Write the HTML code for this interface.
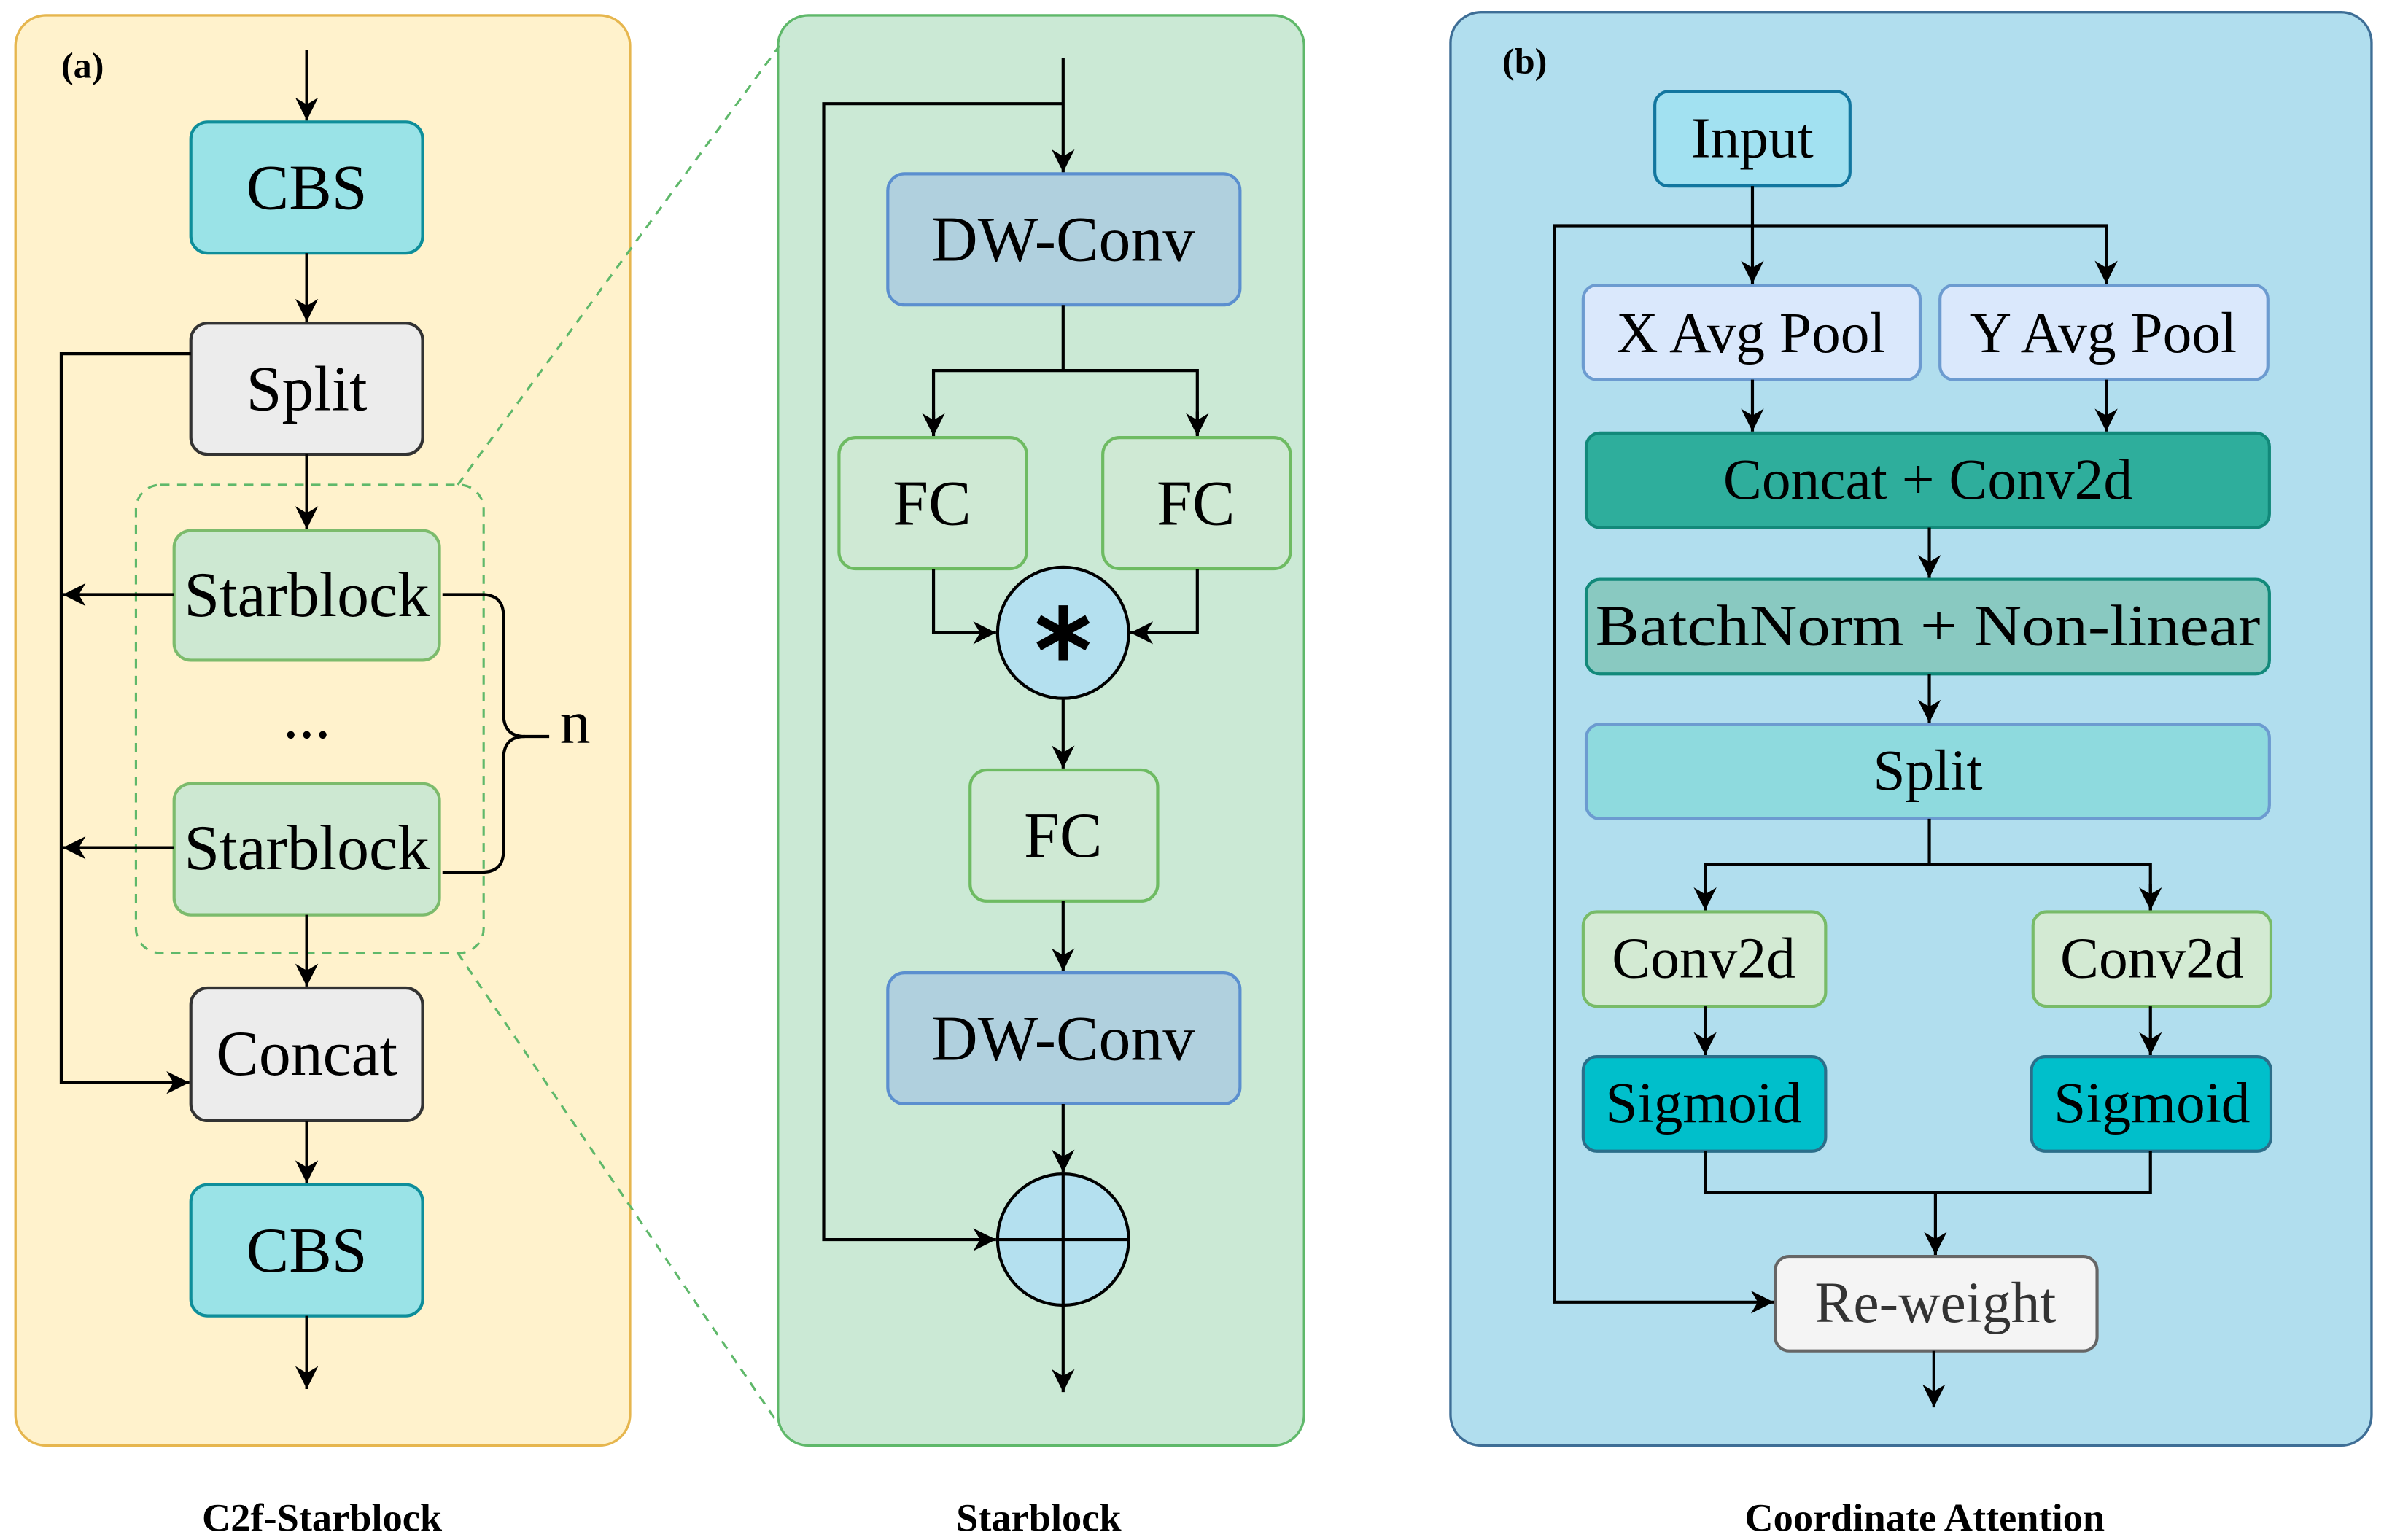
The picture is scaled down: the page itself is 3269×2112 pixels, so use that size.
<!DOCTYPE html>
<html><head><meta charset="utf-8"><style>html,body{margin:0;padding:0;background:#fff;font-family:"Liberation Serif","Times New Roman",Times,"DejaVu Serif",serif}svg{display:block}text{font-family:"Liberation Serif","Times New Roman",Times,"DejaVu Serif",serif}</style></head>
<body>
<svg width="3269" height="2112" viewBox="0 0 1563 1010" xmlns="http://www.w3.org/2000/svg" font-family="Liberation Serif, Times New Roman, serif">
<defs>
<marker id="ar" viewBox="0 0 10 10" refX="10" refY="5" markerWidth="15" markerHeight="15" markerUnits="userSpaceOnUse" orient="auto">
<path d="M0,0 L10,5 L0,10 L3,5 z" fill="#000"/></marker>
</defs>
<g stroke-width="1.6">
<rect x="10" y="10" width="403" height="938" rx="20" fill="#fff2cc" stroke="#e6b64e"/>
<rect x="510" y="10" width="345" height="938" rx="20" fill="#cbe9d5" stroke="#5fb86a"/>
<rect x="951" y="8" width="604" height="940" rx="20" fill="#b1deee" stroke="#3e6e96"/>
</g>
<g fill="none" stroke="#5fb86a" stroke-width="1.5" stroke-dasharray="6,5">
<rect x="89" y="318" width="228" height="307" rx="16"/>
<line x1="300" y1="318" x2="511" y2="30"/>
<line x1="300" y1="625" x2="511" y2="935"/>
</g>
<g font-weight="bold" font-size="24">
<text x="40" y="51">(a)</text>
<text x="985" y="48">(b)</text>
<text x="211" y="1004" text-anchor="middle" font-size="26">C2f-Starblock</text>
<text x="681" y="1004" text-anchor="middle" font-size="26">Starblock</text>
<text x="1262" y="1004" text-anchor="middle" font-size="26">Coordinate Attention</text>
</g>

<g stroke-width="2">
<rect x="125" y="80" width="152" height="86" rx="11" fill="#9ae3e7" stroke="#0e8e9a"/>
<rect x="125" y="212" width="152" height="86" rx="11" fill="#ececec" stroke="#333"/>
<rect x="114" y="348" width="174" height="85" rx="11" fill="#cde8d2" stroke="#7cbb6c"/>
<rect x="114" y="514" width="174" height="86" rx="11" fill="#cde8d2" stroke="#7cbb6c"/>
<rect x="125" y="648" width="152" height="87" rx="11" fill="#ececec" stroke="#333"/>
<rect x="125" y="777" width="152" height="86" rx="11" fill="#9ae3e7" stroke="#0e8e9a"/>
</g>
<g font-size="42" text-anchor="middle">
<text x="201" y="137">CBS</text>
<text x="201" y="269">Split</text>
<text x="201" y="404">Starblock</text>
<text x="201" y="484">...</text>
<text x="201" y="570">Starblock</text>
<text x="201" y="705">Concat</text>
<text x="201" y="834">CBS</text>
<text x="377" y="487" font-size="40">n</text>
</g>
<g fill="none" stroke="#000" stroke-width="2">
<line x1="201" y1="33" x2="201" y2="79" marker-end="url(#ar)"/>
<line x1="201" y1="166" x2="201" y2="211" marker-end="url(#ar)"/>
<line x1="201" y1="298" x2="201" y2="347" marker-end="url(#ar)"/>
<line x1="201" y1="600" x2="201" y2="647" marker-end="url(#ar)"/>
<line x1="201" y1="735" x2="201" y2="776" marker-end="url(#ar)"/>
<line x1="201" y1="863" x2="201" y2="911" marker-end="url(#ar)"/>
<polyline points="125,232 40,232 40,710 124,710" marker-end="url(#ar)"/>
<line x1="114" y1="390" x2="41" y2="390" marker-end="url(#ar)"/>
<line x1="114" y1="556" x2="41" y2="556" marker-end="url(#ar)"/>
<path d="M290 390 H316 Q330 390 330 404 V468 Q330 483 344 483 H360"/>
<path d="M290 572 H316 Q330 572 330 558 V498 Q330 483 344 483"/>
</g>

<g stroke-width="2">
<rect x="582" y="114" width="231" height="86" rx="11" fill="#b0d0de" stroke="#5b8fcf"/>
<rect x="550" y="287" width="123" height="86" rx="11" fill="#cfe9d4" stroke="#6ebb62"/>
<rect x="723" y="287" width="123" height="86" rx="11" fill="#cfe9d4" stroke="#6ebb62"/>
<rect x="636" y="505" width="123" height="86" rx="11" fill="#cfe9d4" stroke="#6ebb62"/>
<rect x="582" y="638" width="231" height="86" rx="11" fill="#b0d0de" stroke="#5b8fcf"/>
<circle cx="697" cy="415" r="43" fill="#b4e0ef" stroke="#000"/>
<circle cx="697" cy="813" r="43" fill="#b4e0ef" stroke="#000"/>
</g>
<g font-size="42" text-anchor="middle">
<text x="697" y="171">DW-Conv</text>
<text x="611" y="344">FC</text>
<text x="784" y="344">FC</text>
<text x="697" y="562">FC</text>
<text x="697" y="695">DW-Conv</text>
</g>
<g fill="none" stroke="#000" stroke-width="2">
<line x1="697" y1="38" x2="697" y2="113" marker-end="url(#ar)"/>
<polyline points="697,68 540,68 540,813 653,813" marker-end="url(#ar)"/>
<line x1="697" y1="200" x2="697" y2="243"/>
<polyline points="612,284 612,243 785,243 785,285"/>
<line x1="612" y1="270" x2="612" y2="286" marker-end="url(#ar)"/>
<line x1="785" y1="270" x2="785" y2="286" marker-end="url(#ar)"/>
<polyline points="612,373 612,415 653,415" marker-end="url(#ar)"/>
<polyline points="785,373 785,415 741,415" marker-end="url(#ar)"/>
<line x1="697" y1="458" x2="697" y2="504" marker-end="url(#ar)"/>
<line x1="697" y1="591" x2="697" y2="637" marker-end="url(#ar)"/>
<line x1="697" y1="724" x2="697" y2="769" marker-end="url(#ar)"/>
<line x1="697" y1="856" x2="697" y2="913" marker-end="url(#ar)"/>
<line x1="654" y1="813" x2="740" y2="813"/>
<line x1="697" y1="770" x2="697" y2="856"/>
</g>
<g stroke="#000" stroke-width="6" stroke-linecap="butt">
<line x1="697" y1="397" x2="697" y2="433"/>
<line x1="681" y1="406" x2="713" y2="424"/>
<line x1="681" y1="424" x2="713" y2="406"/>
</g>

<g stroke-width="2">
<rect x="1085" y="60" width="128" height="62" rx="9" fill="#a2e1f1" stroke="#12769f"/>
<rect x="1038" y="187" width="221" height="62" rx="9" fill="#dae8fc" stroke="#6c9bd0"/>
<rect x="1272" y="187" width="215" height="62" rx="9" fill="#dae8fc" stroke="#6c9bd0"/>
<rect x="1040" y="284" width="448" height="62" rx="9" fill="#2eae9c" stroke="#12897a"/>
<rect x="1040" y="380" width="448" height="62" rx="9" fill="#89c9c1" stroke="#12897a"/>
<rect x="1040" y="475" width="448" height="62" rx="9" fill="#8edade" stroke="#6c9bd0"/>
<rect x="1038" y="598" width="159" height="62" rx="9" fill="#d3ead3" stroke="#78bb68"/>
<rect x="1333" y="598" width="156" height="62" rx="9" fill="#d3ead3" stroke="#78bb68"/>
<rect x="1038" y="693" width="159" height="62" rx="9" fill="#00bfcb" stroke="#2c6e8a"/>
<rect x="1332" y="693" width="157" height="62" rx="9" fill="#00bfcb" stroke="#2c6e8a"/>
<rect x="1164" y="824" width="211" height="62" rx="9" fill="#f4f4f4" stroke="#666"/>
</g>
<g font-size="38" text-anchor="middle">
<text x="1149" y="103">Input</text>
<text x="1148" y="231">X Avg Pool</text>
<text x="1379" y="231">Y Avg Pool</text>
<text x="1264" y="327">Concat + Conv2d</text>
<text x="1264" y="423" textLength="436" lengthAdjust="spacingAndGlyphs">BatchNorm + Non-linear</text>
<text x="1264" y="518">Split</text>
<text x="1117" y="641">Conv2d</text>
<text x="1411" y="641">Conv2d</text>
<text x="1117" y="736">Sigmoid</text>
<text x="1411" y="736">Sigmoid</text>
<text x="1269" y="867" fill="#333">Re-weight</text>
</g>
<g fill="none" stroke="#000" stroke-width="2">
<line x1="1149" y1="122" x2="1149" y2="186" marker-end="url(#ar)"/>
<polyline points="1381,186 1381,148 1019,148 1019,854 1163,854" marker-end="url(#ar)"/>
<line x1="1381" y1="170" x2="1381" y2="186" marker-end="url(#ar)"/>
<line x1="1149" y1="249" x2="1149" y2="283" marker-end="url(#ar)"/>
<line x1="1381" y1="249" x2="1381" y2="283" marker-end="url(#ar)"/>
<line x1="1265" y1="346" x2="1265" y2="379" marker-end="url(#ar)"/>
<line x1="1265" y1="442" x2="1265" y2="474" marker-end="url(#ar)"/>
<line x1="1265" y1="537" x2="1265" y2="567"/>
<polyline points="1118,597 1118,567 1410,567 1410,597"/>
<line x1="1118" y1="580" x2="1118" y2="597" marker-end="url(#ar)"/>
<line x1="1410" y1="580" x2="1410" y2="597" marker-end="url(#ar)"/>
<line x1="1118" y1="660" x2="1118" y2="692" marker-end="url(#ar)"/>
<line x1="1410" y1="660" x2="1410" y2="692" marker-end="url(#ar)"/>
<polyline points="1118,755 1118,782 1410,782 1410,755"/>
<line x1="1269" y1="782" x2="1269" y2="823" marker-end="url(#ar)"/>
<line x1="1268" y1="886" x2="1268" y2="923" marker-end="url(#ar)"/>
</g>
</svg>
</body></html>
